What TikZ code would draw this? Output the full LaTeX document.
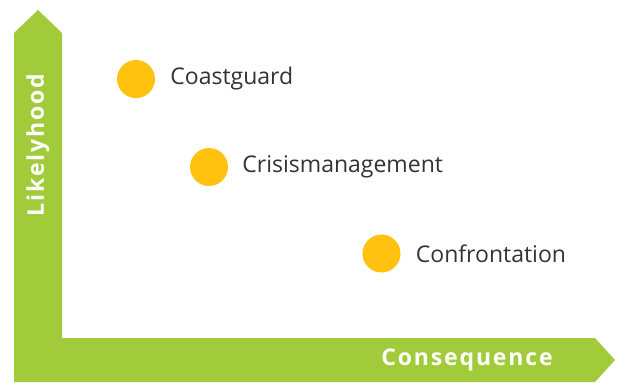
\documentclass[tikz,border=0pt]{standalone}
\usepackage{fontspec}
\setmainfont{Open Sans}
\usetikzlibrary{positioning}
\definecolor{axisgreen}{HTML}{A2CB3B}
\definecolor{dotyellow}{HTML}{FFC20E}
\definecolor{textgray}{HTML}{333333}
\tikzstyle{axis}=[fill=axisgreen, draw=none]
\tikzstyle{axislabel}=[text=white, inner sep=0pt, font=\fontsize{23}{23}\selectfont\bfseries\addfontfeatures{LetterSpace=8}]
\tikzstyle{dot}=[circle, fill=dotyellow, minimum size=38pt, inner sep=0pt]
\tikzstyle{item}=[text=textgray, inner sep=0pt, font=\fontsize{23}{23}\selectfont]

\begin{document}
\begin{tikzpicture}[x=1pt, y=-1pt, node distance=15pt]
    \useasboundingbox (0,0) rectangle (617,382);
    % axes
    \fill[axis] (14,382) -- (14,33) -- (38,10) -- (62,33) -- (62,338)
        -- (595,338) -- (615,360) -- (595,382) -- cycle;
    \node [axislabel, rotate=90] (likelyhood) at (38,145) {Likelyhood};
    \node [axislabel] (consequence) at (467,360) {Consequence};

    % risks
    \node [dot] (coastguard) at (136,79) {};
    \node [item, right=of coastguard] (coastguard_text) {Coastguard};
    \node [dot] (crisis) at (209,167) {};
    \node [item, right=14pt of crisis] (crisis_text) {Crisismanagement};
    \node [dot] (confrontation) at (381.5,253.5) {};
    \node [item, right=of confrontation] (confrontation_text) {Confrontation};
\end{tikzpicture}
\end{document}
